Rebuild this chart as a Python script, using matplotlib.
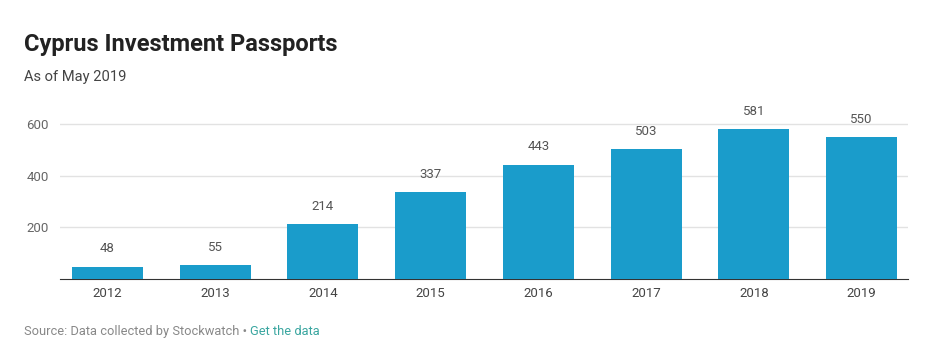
import matplotlib.pyplot as plt
import numpy as np

plt.rcParams["font.family"] = ["Roboto", "DejaVu Sans"]

years = ["2012", "2013", "2014", "2015", "2016", "2017", "2018", "2019"]
passports = [48, 55, 214, 337, 443, 503, 581, 550]
y_ticks = [200, 400, 600]

W, H = 936, 352
fig = plt.figure(figsize=(W / 100, H / 100), dpi=100)
# axes placed in pixel terms: left 60, right 908, bottom 279, top 111
ax = fig.add_axes([60 / W, 1 - 279 / H, (908 - 60) / W, (279 - 111) / H])

x = np.arange(len(years))
bars = ax.bar(x, passports, width=0.66, color="#1a9ccb", zorder=3)
ax.bar_label(bars, padding=8, fontsize=9.5, color="#555555")

ax.set_xlim(-0.44, 7.43)
ax.set_ylim(0, 650)
ax.set_xticks(x)
ax.set_xticklabels(years)
ax.set_yticks(y_ticks)
ax.grid(axis="y", color="#e2e2e2", linewidth=1, zorder=0)
for s in ["top", "right", "left"]:
    ax.spines[s].set_visible(False)
ax.spines["bottom"].set_color("#333333")
ax.tick_params(axis="x", length=0, pad=6, labelsize=9.5, labelcolor="#444444")
ax.tick_params(axis="y", length=0, pad=8, labelsize=9.5, labelcolor="#666666")

fig.text(24 / W, 1 - 51 / H, "Cyprus Investment Passports", fontsize=17,
         fontweight="bold", color="#222222")
fig.text(24 / W, 1 - 81 / H, "As of May 2019", fontsize=10.6, color="#444444")
t = fig.text(24 / W, 1 - 335 / H, "Source: Data collected by Stockwatch \u2022 ",
             fontsize=9.3, color="#888888")
fig.canvas.draw()
bb = t.get_window_extent()
fig.text(bb.x1 / W, 1 - 335 / H, "Get the data", fontsize=9.3, color="#3aa6a0")

plt.savefig("out.png", dpi=100)
